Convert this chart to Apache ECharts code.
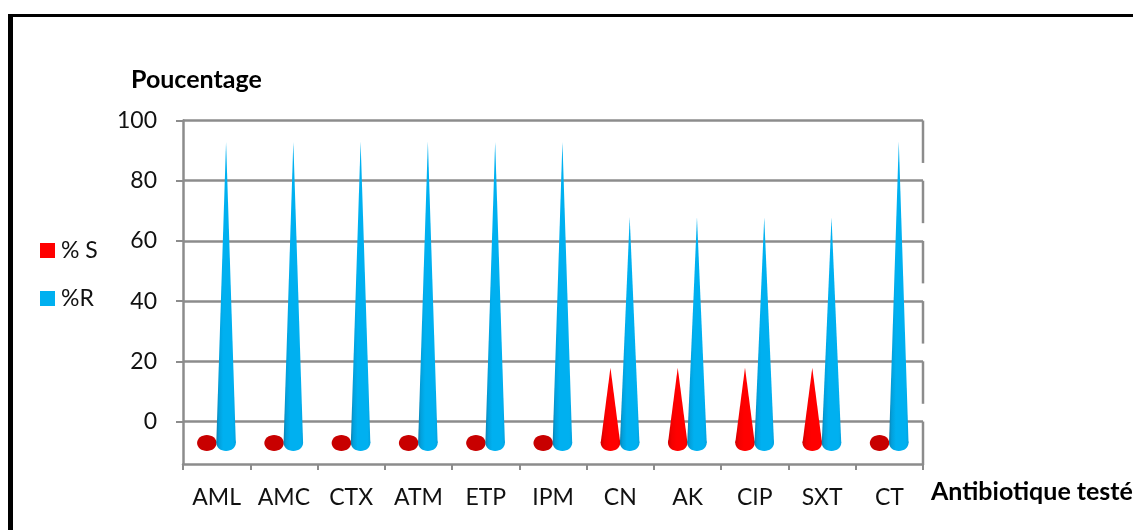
<!DOCTYPE html>
<html><head><meta charset="utf-8">
<style>html,body{margin:0;padding:0;background:#fff}#c{width:1133px;height:530px}</style>
<script src="https://cdn.jsdelivr.net/npm/echarts@6/dist/echarts.min.js"></script>
</head><body><div id="c"></div>
<script>
const categories = ['AML','AMC','CTX','ATM','ETP','IPM','CN','AK','CIP','SXT','CT'];
const percentS = [0,0,0,0,0,0,25,25,25,25,0];
const percentR = [100,100,100,100,100,100,75,75,75,75,100];
const yTicks = [0,20,40,60,80,100];
const FONT = 'Lato';
const GRAY = '#8c8c8c';
const DEPTH = 14.1; // perspective drop of the 3D wall, in axis units

const chart = echarts.init(document.getElementById('c'), null, {renderer:'canvas'});

function coneItem(offset, stops, flatColor){
  return function(params, api){
    const i = api.value(0), v = api.value(1);
    const band = api.size([1,0])[0];
    const base = api.coord([i,0]);
    const tip = api.coord([i,v]);
    const cx = base[0] + offset*band;
    const rx = 0.145*band, ry = 8;
    if (v === 0) {
      return {type:'ellipse', shape:{cx:cx,cy:base[1],rx:rx,ry:ry}, style:{fill:flatColor}};
    }
    const grad = new echarts.graphic.LinearGradient(0,0,1,0,stops);
    return {type:'group', children:[
      {type:'ellipse', shape:{cx:cx,cy:base[1],rx:rx,ry:ry}, style:{fill:grad}},
      {type:'polygon', shape:{points:[[cx-rx,base[1]],[cx,tip[1]],[cx+rx,base[1]]]}, style:{fill:grad}}
    ]};
  };
}

const blueStops = [{offset:0,color:'#0f7fad'},{offset:.14,color:'#02a0dc'},{offset:.35,color:'#00b0f0'},{offset:.85,color:'#00b0f0'},{offset:1,color:'#05a2df'}];
const redStops = [{offset:0,color:'#d00000'},{offset:.2,color:'#f40000'},{offset:.45,color:'#ff0000'},{offset:.88,color:'#ff0000'},{offset:1,color:'#e00000'}];

chart.setOption({
  animation:false,
  backgroundColor:'#fff',
  title:[
    {text:'Poucentage', left:126, top:62, textStyle:{fontFamily:FONT,fontWeight:'bold',fontSize:25,color:'#000'}},
    {text:'Antibiotique testé', left:926, top:474, textStyle:{fontFamily:FONT,fontWeight:'bold',fontSize:25,color:'#000'}}
  ],
  legend:{
    orient:'vertical', left:35, top:234, itemWidth:15, itemHeight:15, itemGap:25, icon:'rect',
    data:['% S','%R'], selectedMode:false,
    textStyle:{fontFamily:FONT,fontSize:23,color:'#111',padding:[0,0,0,1]}
  },
  graphic:[
    {type:'rect', shape:{x:8,y:14,width:5,height:516}, style:{fill:'#000'}, silent:true},
    {type:'rect', shape:{x:8,y:14,width:1125,height:3}, style:{fill:'#000'}, silent:true}
  ],
  grid:{left:183,right:210,top:120.5,bottom:66},
  xAxis:{
    type:'category', data:categories, boundaryGap:true,
    axisLine:{onZero:false,lineStyle:{color:GRAY,width:2.5}},
    axisTick:{show:true,length:6,lineStyle:{color:GRAY,width:2}},
    axisLabel:{fontFamily:FONT,fontSize:23,color:'#111',margin:22,interval:0}
  },
  yAxis:[
    {type:'value', min:-DEPTH, max:100,
     axisLine:{show:true,lineStyle:{color:GRAY,width:2.5}},
     axisTick:{show:true,length:7,customValues:yTicks,lineStyle:{color:GRAY,width:2}},
     axisLabel:{fontFamily:FONT,fontSize:23,color:'#111',margin:26,customValues:yTicks},
     splitLine:{show:true,lineStyle:{color:GRAY,width:2.5}}},
    {type:'value', min:-7, max:107.1, show:false, splitLine:{show:false}}
  ],
  series:[
    {type:'custom', name:'wall', yAxisIndex:0, silent:true, z:1, clip:false,
     data:yTicks.map(v=>[0,v]),
     renderItem:function(params,api){
       const v = api.value(1);
       const x = params.coordSys.x + params.coordSys.width;
       const a = api.coord([0,v]), b = api.coord([0,v-DEPTH]);
       return {type:'line', shape:{x1:x,y1:a[1],x2:x,y2:b[1]}, style:{stroke:GRAY,lineWidth:2.5}};
     }},
    {type:'custom', name:'% S', yAxisIndex:1, z:3, clip:false,
     itemStyle:{color:'#ff0000'},
     data:percentS.map((v,i)=>[i,v]),
     renderItem:coneItem(-0.146, redStops, '#c80000')},
    {type:'custom', name:'%R', yAxisIndex:1, z:4, clip:false,
     itemStyle:{color:'#00b0f0'},
     data:percentR.map((v,i)=>[i,v]),
     renderItem:coneItem(0.14, blueStops, '#00b0f0')}
  ]
});
</script></body></html>
